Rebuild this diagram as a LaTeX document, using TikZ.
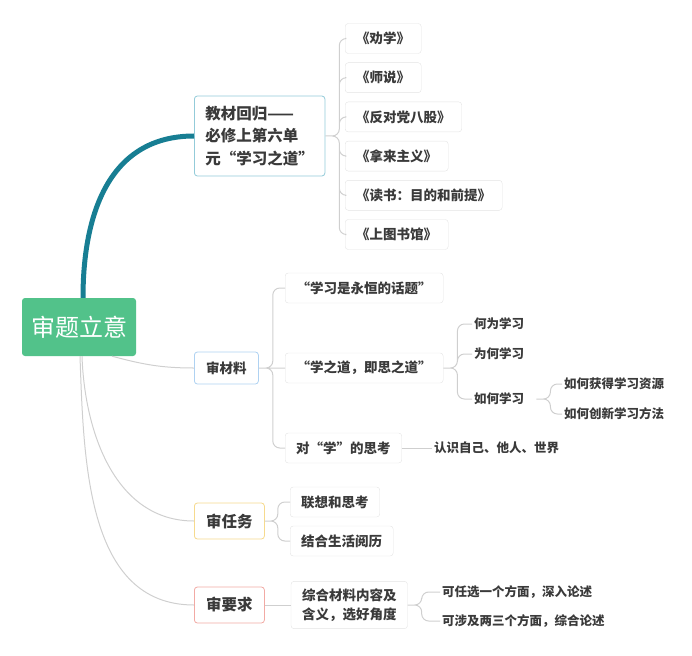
\documentclass[tikz,border=0pt]{standalone}
\usepackage{fontspec}
\setmainfont{Noto Sans CJK SC}
\usetikzlibrary{positioning}
\definecolor{rootgreen}{HTML}{52C28A}
\definecolor{mainteal}{HTML}{177E93}
\definecolor{linkgray}{HTML}{CFCFCF}
\definecolor{txtgray}{HTML}{3A3A3A}
\definecolor{bdteal}{HTML}{93CBD9}
\definecolor{bdblue}{HTML}{AFD2F2}
\definecolor{bdyellow}{HTML}{F6DA8E}
\definecolor{bdpink}{HTML}{F2AAA4}
\definecolor{bdgray}{HTML}{E4E4E4}
\begin{document}
\begin{tikzpicture}[every node/.style={text=txtgray},
      root/.style={fill=rootgreen, text=white, font=\fontsize{24}{28}\selectfont, rounded corners=3pt, minimum width=114pt, minimum height=58pt},
      topic/.style={draw=#1, fill=white, rounded corners=3pt, line width=0.8pt, inner xsep=11pt, anchor=west},
      leaf/.style={draw=bdgray, fill=white, rounded corners=3pt, minimum height=30pt, inner xsep=11pt, anchor=west, font=\bfseries\fontsize{13.5}{19.5}\selectfont},
      tip/.style={inner sep=2pt, anchor=west, font=\bfseries\fontsize{12.5}{15}\selectfont},
      link/.style={draw=linkgray, line width=1pt, rounded corners=7pt},
      mainlink/.style={draw=mainteal, line width=5pt}]
  \useasboundingbox (0,0) rectangle (692pt,-655pt);
  % main branches
  \node[root] (r) at (79pt,-327pt) {审题立意};
  \node[topic=bdteal, align=left, font=\bfseries\fontsize{15.5}{22.5}\selectfont, minimum width=124pt, minimum height=80pt] (jm) at (194pt,-136pt) {教材回归——\\必修上第六单\\元“学习之道”};
  \node[topic=bdblue, font=\bfseries\fontsize{13.5}{16}\selectfont, minimum height=32pt, minimum width=64pt] (scl) at (194pt,-368pt) {审材料};
  \node[topic=bdyellow, font=\bfseries\fontsize{15.5}{18}\selectfont, minimum height=36pt, minimum width=70pt] (srw) at (194pt,-521pt) {审任务};
  \node[topic=bdpink, font=\bfseries\fontsize{15.5}{18}\selectfont, minimum height=36pt, minimum width=70pt] (syq) at (194pt,-605pt) {审要求};
  \draw[mainlink] ([xshift=4pt]r.north) to[out=90, in=180, looseness=1.1] (jm.west);
  \draw[link] ([xshift=33pt]r.south) to[out=-15, in=180] (scl.west);
  \draw[link] ([xshift=3pt]r.south) to[out=-88, in=180] (srw.west);
  \draw[link] ([xshift=1pt]r.south) to[out=-88, in=180] (syq.west);
  % books
  \node[leaf] (b1) at (345pt,-38.5pt) {《劝学》};
  \node[leaf, below=39.2pt of b1.west, anchor=west] (b2) {《师说》};
  \node[leaf, below=39.2pt of b2.west, anchor=west] (b3) {《反对党八股》};
  \node[leaf, below=39.2pt of b3.west, anchor=west] (b4) {《拿来主义》};
  \node[leaf, below=39.2pt of b4.west, anchor=west] (b5) {《读书：目的和前提》};
  \node[leaf, below=39.2pt of b5.west, anchor=west] (b6) {《上图书馆》};
  \draw[link] (jm.east) -- ++(14pt,0) |- (b1.west) (jm.east) -- ++(14pt,0) |- (b2.west)
    (jm.east) -- ++(14pt,0) |- (b3.west) (jm.east) -- ++(14pt,0) |- (b4.west)
    (jm.east) -- ++(14pt,0) |- (b5.west) (jm.east) -- ++(14pt,0) |- (b6.west);
  % material
  \node[leaf, minimum width=158pt] (xt1) at (285pt,-288pt) {“学习是永恒的话题”};
  \node[leaf, minimum width=158pt, below=80pt of xt1.west, anchor=west] (xt2) {“学之道，即思之道”};
  \node[leaf, below=80pt of xt2.west, anchor=west] (xt3) {对“学”的思考};
  \draw[link] (scl.east) -- ++(14pt,0) |- (xt1.west) (scl.east) -- (xt2.west)
    (scl.east) -- ++(14pt,0) |- (xt3.west);
  \node[tip] (w1) at (472pt,-324pt) {何为学习};
  \node[tip, below=30pt of w1.west, anchor=west] (w2) {为何学习};
  \node[tip, below=45pt of w2.west, anchor=west] (w3) {如何学习};
  \draw[link] (xt2.east) -- ++(14pt,0) |- (w1.west) (xt2.east) -- ++(14pt,0) |- (w2.west)
    (xt2.east) -- ++(14pt,0) |- (w3.west);
  \node[tip] (h1) at (562pt,-384pt) {如何获得学习资源};
  \node[tip, below=30pt of h1.west, anchor=west] (h2) {如何创新学习方法};
  \draw[link] ([xshift=10pt]w3.east) -- ++(14pt,0) |- (h1.west) ([xshift=10pt]w3.east) -- ++(14pt,0) |- (h2.west);
  \node[tip, right=30pt of xt3] (rs) {认识自己、他人、世界};
  \draw[link] (xt3.east) -- (rs.west);
  % task
  \node[leaf] (lx) at (290pt,-502pt) {联想和思考};
  \node[leaf, below=39pt of lx.west, anchor=west] (jh) {结合生活阅历};
  \draw[link] (srw.east) -- ++(13pt,0) |- (lx.west) (srw.east) -- ++(13pt,0) |- (jh.west);
  % requirement
  \node[leaf, right=26pt of syq, align=left, inner ysep=7pt] (zh) {综合材料内容及\\含义，选好角度};
  \draw[link] (syq.east) -- (zh.west);
  \node[tip] (k1) at (440pt,-592pt) {可任选一个方面，深入论述};
  \node[tip, below=29pt of k1.west, anchor=west] (k2) {可涉及两三个方面，综合论述};
  \draw[link] (zh.east) -- ++(14pt,0) |- (k1.west) (zh.east) -- ++(14pt,0) |- (k2.west);
\end{tikzpicture}
\end{document}
